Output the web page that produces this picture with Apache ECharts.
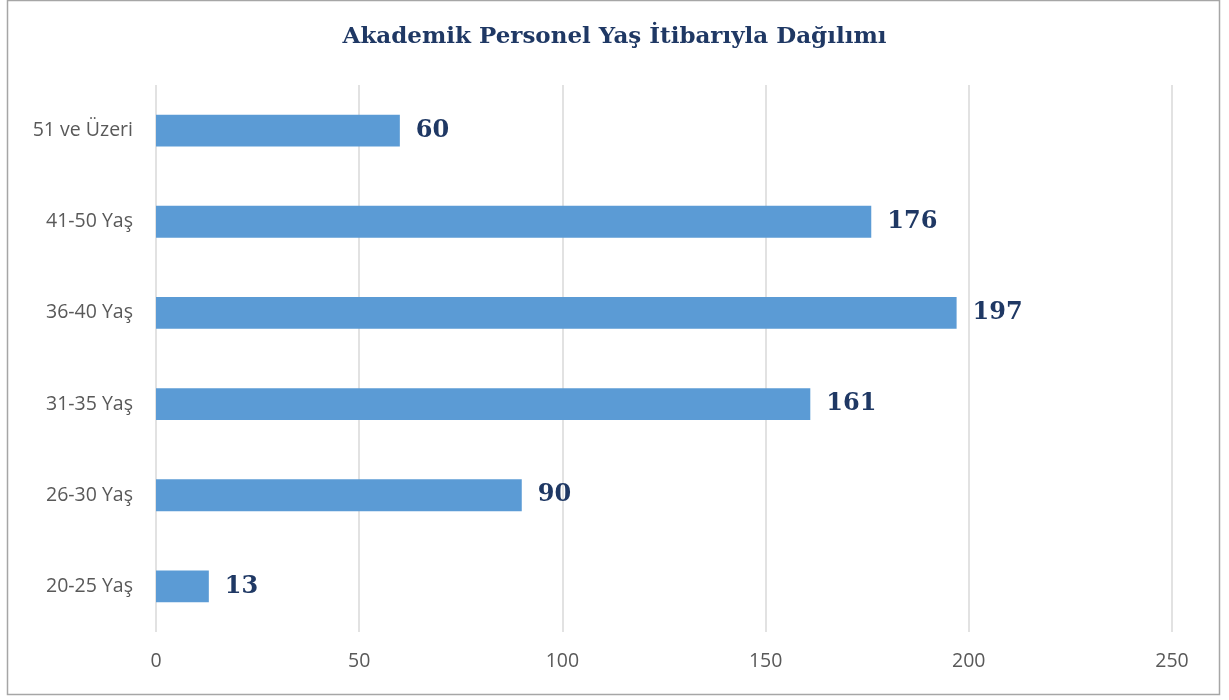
<!DOCTYPE html>
<html><head><meta charset="utf-8">
<script src="https://cdn.jsdelivr.net/npm/echarts@6/dist/echarts.min.js"></script>
<style>html,body{margin:0;padding:0;background:#fff}#c{width:1229px;height:700px}</style>
</head><body><div id="c"></div>
<script>
const titleText = 'Akademik Personel Yaş İtibarıyla Dağılımı';
const categories = ['20-25 Yaş','26-30 Yaş','31-35 Yaş','36-40 Yaş','41-50 Yaş','51 ve Üzeri'];
const values = [13, 90, 161, 197, 176, 60];
const xTicks = [0, 50, 100, 150, 200, 250];

const chart = echarts.init(document.getElementById('c'), null, {renderer:'canvas'});
chart.setOption({
  animation: false,
  backgroundColor: '#fff',
  title: {
    text: titleText, left: 'center', top: 21,
    textStyle: {fontFamily: 'DejaVu Serif', fontWeight: 'bold', fontSize: 23, color: '#1f3864'}
  },
  graphic: [{type:'rect', shape:{x:7.5,y:0.5,width:1212,height:694}, style:{fill:'none', stroke:'#a6a6a6', lineWidth:1.5}, silent:true}],
  grid: {left: 156, right: 57, top: 85, bottom: 68},
  xAxis: {
    type: 'value', min: xTicks[0], max: xTicks[xTicks.length-1], interval: 50,
    axisLine: {show:false}, axisTick: {show:false},
    splitLine: {lineStyle: {color: '#d9d9d9', width: 1.5}},
    axisLabel: {color: '#595959', fontSize: 19.5, fontFamily: 'Open Sans', margin: 19}
  },
  yAxis: {
    type: 'category', data: categories,
    axisLine: {show:false}, axisTick: {show:false},
    axisLabel: {color: '#595959', fontSize: 19.5, fontFamily: 'Open Sans', margin: 23}
  },
  series: [{
    type: 'bar', data: values, barCategoryGap: '65%',
    itemStyle: {color: '#5b9bd5'},
    label: {show: true, position: 'right', distance: 16,
      fontFamily: 'DejaVu Serif', fontWeight: 'bold', fontSize: 24, color: '#1f3864'}
  }]
});
</script></body></html>
